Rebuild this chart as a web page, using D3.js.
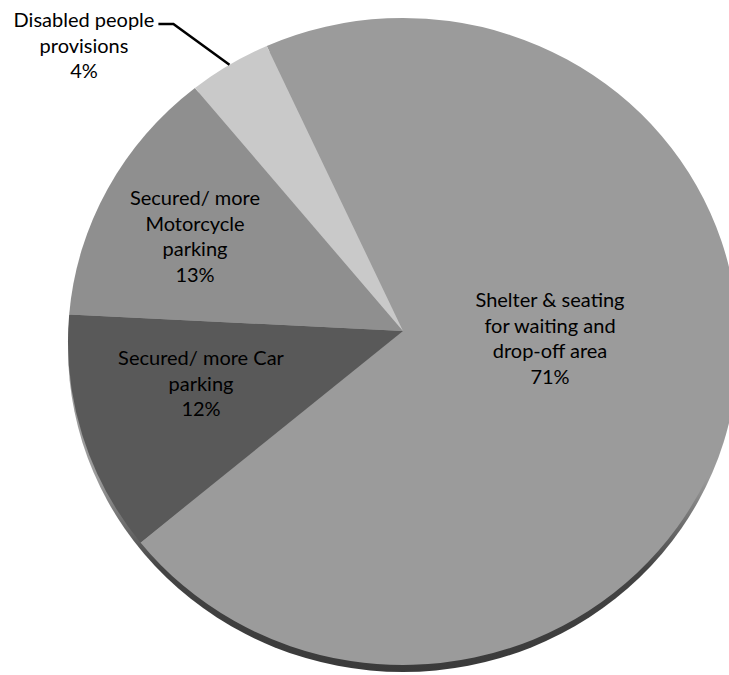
<!DOCTYPE html>
<html><head><meta charset="utf-8">
<script src="https://cdn.jsdelivr.net/npm/d3@7"></script>
<style>html,body{margin:0;padding:0;background:#fff;} svg{display:block}</style>
</head><body>
<svg id="chart" width="729" height="675"></svg>
<script>
// Survey shares of requested facility improvements
const categories = [
  "Shelter & seating for waiting and drop-off area",
  "Secured/ more Car parking",
  "Secured/ more Motorcycle parking",
  "Disabled people provisions"
];
const values = [71, 12, 13, 4];
const percentLabels = ["71%", "12%", "13%", "4%"];
const labelLines = [
  ["Shelter & seating", "for waiting and", "drop-off area"],
  ["Secured/ more Car", "parking"],
  ["Secured/ more", "Motorcycle", "parking"],
  ["Disabled people", "provisions"]
];
const sliceColors = ["#9b9b9b", "#595959", "#8f8f8f", "#c9c9c9"];

// Tilted pie geometry: elliptical top face, apex slightly above ellipse centre
const cx = 403, cy = 341.5, rx = 335, ry = 323.5, apexY = 331, depth = 7;
const startDeg = -24;
const lineGap = 25.5;
const fontFamily = "Lato, 'Open Sans', sans-serif";
const fontSize = 20;

// Label block placement (centre x, first baseline y)
const labelPlace = [
  { x: 550, y: 307 },
  { x: 201, y: 365 },
  { x: 195, y: 205 },
  { x: 84,  y: 27, outside: true }
];

const svg = d3.select("#chart");
const a0 = startDeg * Math.PI / 180;
const pie = d3.pie().sort(null).value(d => d).startAngle(a0).endAngle(a0 + 2 * Math.PI);
const arcs = pie(values);

const pt = a => [cx + rx * Math.sin(a), cy - ry * Math.cos(a)];
function slicePath(d) {
  const [x0, y0] = pt(d.startAngle), [x1, y1] = pt(d.endAngle);
  const large = (d.endAngle - d.startAngle) > Math.PI ? 1 : 0;
  return `M${cx},${apexY}L${x0},${y0}A${rx},${ry} 0 ${large} 1 ${x1},${y1}Z`;
}

// Side of the pie: shaded band, darkening toward the front edge
const grad = svg.append("defs").append("linearGradient")
  .attr("id", "sideShade").attr("x1", 0).attr("y1", 0).attr("x2", 0).attr("y2", 1);
grad.append("stop").attr("offset", "0.70").attr("stop-color", "#9b9b9b");
grad.append("stop").attr("offset", "0.84").attr("stop-color", "#444444");
grad.append("stop").attr("offset", "1").attr("stop-color", "#3a3a3a");

svg.append("ellipse")
  .attr("cx", cx).attr("cy", cy + depth)
  .attr("rx", rx).attr("ry", ry)
  .attr("fill", "url(#sideShade)");

// Top face slices
svg.append("g").selectAll("path")
  .data(arcs)
  .join("path")
  .attr("d", slicePath)
  .attr("fill", (d, i) => sliceColors[i]);

// Labels
const labels = svg.append("g")
  .attr("font-family", fontFamily)
  .attr("font-size", fontSize)
  .attr("fill", "#000")
  .attr("text-anchor", "middle");

arcs.forEach((d, i) => {
  const p = labelPlace[i];
  const lines = labelLines[i].concat([percentLabels[i]]);
  const t = labels.append("text").attr("x", p.x).attr("y", p.y);
  lines.forEach((ln, k) => {
    t.append("tspan").attr("x", p.x).attr("y", p.y + k * lineGap).text(ln);
  });
  if (p.outside) {
    const first = t.select("tspan").node();
    const bb = first.getBBox();
    const sx = bb.x + bb.width + 4, sy = p.y - 3;
    const mid = (d.startAngle + d.endAngle) / 2;
    const [ex, ey] = pt(mid);
    svg.append("path")
      .attr("d", `M${sx},${sy}H${sx + 15}L${ex},${ey}`)
      .attr("fill", "none")
      .attr("stroke", "#000")
      .attr("stroke-width", 2.5);
  }
});
</script>
</body></html>
